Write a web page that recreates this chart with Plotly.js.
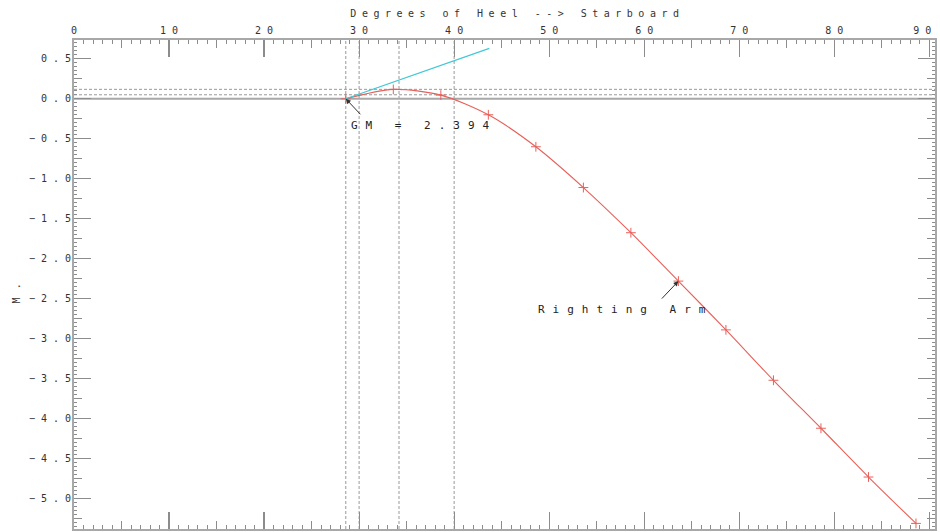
<!DOCTYPE html>
<html>
<head>
<meta charset="utf-8">
<script src="https://cdn.plot.ly/plotly-3.0.1.min.js"></script>
<style>
  html, body { margin: 0; padding: 0; background: #fff; }
  #chart { width: 940px; height: 532px; }
  .xtick text, .ytick text { letter-spacing: 6px; }
  text.gtitle { letter-spacing: 5.5px; }
  text.annotation-text { letter-spacing: 8px; }
</style>
</head>
<body>
<div id="chart"></div>
<script>
// Righting arm curve (degrees of heel vs M.)
const heelDeg = [28.6, 33.6, 38.6, 43.6, 48.6, 53.6, 58.6, 63.6, 68.6, 73.6, 78.6, 83.6, 88.6];
const rightingArm = [0.0, 0.117, 0.046, -0.20, -0.60, -1.11, -1.675, -2.28, -2.89, -3.52, -4.12, -4.73, -5.31];

// GM tangent line
const gmX = [28.6, 43.7];
const gmY = [0.0, 0.63];
const gmLabel = "GM = 2.394";
const curveLabel = "Righting Arm";

// Reference lines
const vLines = [28.6, 30, 34.2, 40];
const hDashed = [0.05, 0.118];
const hSolid = [0.0];

const axisTitle = "Degrees of Heel --> Starboard";
const yTitle = "M.";

const X_RANGE = [0, 90.6];
const Y_RANGE = [-5.38, 0.735];

const axisGrey = '#a8a8a8';
const tickGrey = '#8c8c8c';
const tickFont = {family: 'DejaVu Sans Mono', size: 10, color: '#333'};

const traces = [
  {
    x: heelDeg, y: rightingArm, type: 'scatter', mode: 'lines+markers',
    line: {color: '#e8605a', width: 1.1, shape: 'spline', smoothing: 0.8},
    marker: {symbol: 'cross-thin-open', size: 7, line: {color: '#e8605a', width: 1}},
    xaxis: 'x', yaxis: 'y', hoverinfo: 'none'
  },
  {
    x: gmX, y: gmY, type: 'scatter', mode: 'lines',
    line: {color: '#40c8d6', width: 1.2},
    xaxis: 'x2', yaxis: 'y2', hoverinfo: 'none'
  }
];

const shapes = [];
vLines.forEach(v => shapes.push({type: 'line', xref: 'x', yref: 'paper', x0: v, x1: v, y0: 0, y1: 1,
  line: {color: '#999', width: 1, dash: '3px,2px'}, layer: 'below'}));
hDashed.forEach(v => shapes.push({type: 'line', xref: 'paper', yref: 'y', x0: 0, x1: 1, y0: v, y1: v,
  line: {color: '#999', width: 1, dash: '3px,2px'}, layer: 'below'}));
hSolid.forEach(v => shapes.push({type: 'line', xref: 'paper', yref: 'y', x0: 0, x1: 1, y0: v, y1: v,
  line: {color: axisGrey, width: 2}, layer: 'below'}));

const layout = {
  width: 940, height: 532,
  margin: {l: 74, r: 5, t: 40, b: 3, pad: 0},
  paper_bgcolor: '#fff', plot_bgcolor: '#fff',
  showlegend: false,
  title: {text: axisTitle, font: {family: 'DejaVu Sans Mono', size: 10, color: '#333'},
          xref: 'paper', x: 0.515, xanchor: 'center', yref: 'container', y: 0.975, yanchor: 'middle'},
  xaxis: {
    range: X_RANGE, side: 'top', showgrid: false, zeroline: false,
    tickmode: 'linear', tick0: 0, dtick: 10, ticks: 'inside', ticklen: 17, tickwidth: 1.2, tickcolor: tickGrey,
    minor: {tickmode: 'linear', tick0: 0, dtick: 1, ticks: 'inside', ticklen: 4, tickwidth: 1, tickcolor: tickGrey, showgrid: false},
    showline: true, linecolor: axisGrey, linewidth: 2, mirror: 'ticks',
    tickfont: tickFont, ticklabelstandoff: 0, ticklabeloverflow: 'allow'
  },
  xaxis2: {
    range: X_RANGE, overlaying: 'x', side: 'top', anchor: 'y2', showgrid: false, zeroline: false,
    tickmode: 'linear', tick0: 0, dtick: 5, ticks: 'inside', ticklen: 8, tickwidth: 1, tickcolor: tickGrey,
    showticklabels: false, showline: false, mirror: 'ticks'
  },
  yaxis: {
    range: Y_RANGE, showgrid: false, zeroline: false,
    tickmode: 'linear', tick0: 0, dtick: 0.5, tickformat: '.1f',
    ticks: 'inside', ticklen: 17, tickwidth: 1.2, tickcolor: tickGrey,
    minor: {tickmode: 'linear', tick0: 0, dtick: 0.05, ticks: 'inside', ticklen: 3, tickwidth: 1, tickcolor: tickGrey, showgrid: false},
    showline: true, linecolor: axisGrey, linewidth: 2, mirror: 'ticks',
    tickfont: tickFont, ticklabelstandoff: 0, ticklabeloverflow: 'allow'
  },
  yaxis2: {
    range: Y_RANGE, overlaying: 'y', anchor: 'x2', showgrid: false, zeroline: false,
    tickmode: 'linear', tick0: 0, dtick: 0.25, ticks: 'inside', ticklen: 8, tickwidth: 1, tickcolor: tickGrey,
    showticklabels: false, showline: false, mirror: 'ticks'
  },
  shapes: shapes,
  annotations: [
    {xref: 'paper', yref: 'paper', x: -58 / 861, y: 0.49, text: yTitle, showarrow: false, textangle: -90,
     xanchor: 'center', yanchor: 'middle', font: {family: 'DejaVu Sans Mono', size: 10, color: '#333'}},
    {xref: 'x', yref: 'y', x: 28.95, y: -0.34, text: gmLabel, showarrow: false, xanchor: 'left', yanchor: 'middle',
     font: {family: 'DejaVu Sans Mono', size: 11, color: '#222'}},
    {xref: 'x', yref: 'y', x: heelDeg[0], y: rightingArm[0], text: '', showarrow: true, ax: 16, ay: 17,
     arrowhead: 2, arrowsize: 1, arrowwidth: 1, arrowcolor: '#333'},
    {xref: 'x', yref: 'y', x: 48.6, y: -2.63, text: curveLabel, showarrow: false, xanchor: 'left', yanchor: 'middle',
     font: {family: 'DejaVu Sans Mono', size: 11, color: '#222'}},
    {xref: 'x', yref: 'y', x: heelDeg[7], y: rightingArm[7], text: '', showarrow: true, ax: -18, ay: 19,
     arrowhead: 2, arrowsize: 1, arrowwidth: 1, arrowcolor: '#333'}
  ]
};

Plotly.newPlot('chart', traces, layout, {staticPlot: true, displayModeBar: false}).then(function () {
  // compensate for trailing letter-spacing so labels sit where the reference has them
  document.querySelectorAll('.ytick text').forEach(function (t) { t.setAttribute('dx', '7'); });
  const xl = document.querySelectorAll('.xtick text');
  xl.forEach(function (t, i) { t.setAttribute('dx', i === xl.length - 1 ? '-4' : '3'); });
});
</script>
</body>
</html>
